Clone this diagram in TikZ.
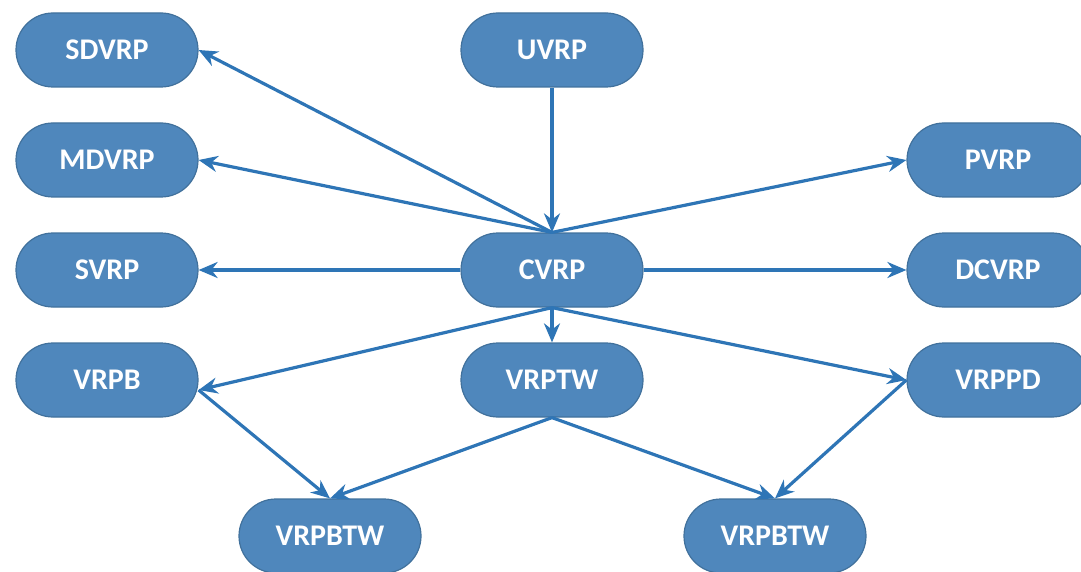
\documentclass[tikz,border=0pt]{standalone}
\usepackage{fontspec}
\setmainfont{Carlito}
\usetikzlibrary{arrows.meta}
\definecolor{boxfill}{HTML}{4F87BC}
\definecolor{boxline}{HTML}{41719C}
\definecolor{arrowblue}{HTML}{2E75B6}
\tikzset{
  vrp/.style={draw=boxline, line width=1.2pt, fill=boxfill, rounded corners=37pt,
    minimum width=182pt, minimum height=74pt, inner sep=0pt,
    text=white, font=\bfseries\fontsize{30}{34}\selectfont},
  link/.style={draw=arrowblue, line width=3.2pt,
    -{Stealth[length=19pt,width=16pt]}}
}
\begin{document}
\begin{tikzpicture}[x=1pt,y=-1pt]
  \useasboundingbox (0,0) rectangle (1081,572);
  % upper rows
  \node[vrp] (sdvrp) at (107,50) {SDVRP};
  \node[vrp] (uvrp)  at (552,50) {UVRP};
  \node[vrp] (mdvrp) at (107,160) {MDVRP};
  \node[vrp] (pvrp)  at (998,160) {PVRP};
  \node[vrp] (svrp)  at (107,270) {SVRP};
  \node[vrp] (cvrp)  at (552,270) {CVRP};
  \node[vrp] (dcvrp) at (998,270) {DCVRP};
  % lower rows
  \node[vrp] (vrpb)  at (107,380) {VRPB};
  \node[vrp] (vrptw) at (552,380) {VRPTW};
  \node[vrp] (vrppd) at (998,380) {VRPPD};
  \node[vrp] (btwa)  at (330,536) {VRPBTW};
  \node[vrp] (btwb)  at (775,536) {VRPBTW};
  % links
  \draw[link] (uvrp.south) -- (cvrp.north);
  \draw[link] (cvrp.north) -- (sdvrp.east);
  \draw[link] (cvrp.north) -- (mdvrp.east);
  \draw[link] (cvrp.north) -- (pvrp.west);
  \draw[link] (cvrp.west) -- (svrp.east);
  \draw[link] (cvrp.east) -- (dcvrp.west);
  \draw[link] (cvrp.south) -- ([yshift=-10pt]vrpb.east);
  \draw[link] (cvrp.south) -- (vrptw.north);
  \draw[link] (cvrp.south) -- (vrppd.west);
  \draw[link] ([yshift=-10pt]vrpb.east) -- (btwa.north);
  \draw[link] (vrptw.south) -- (btwa.north);
  \draw[link] (vrptw.south) -- (btwb.north);
  \draw[link] (vrppd.west) -- (btwb.north);
\end{tikzpicture}
\end{document}
